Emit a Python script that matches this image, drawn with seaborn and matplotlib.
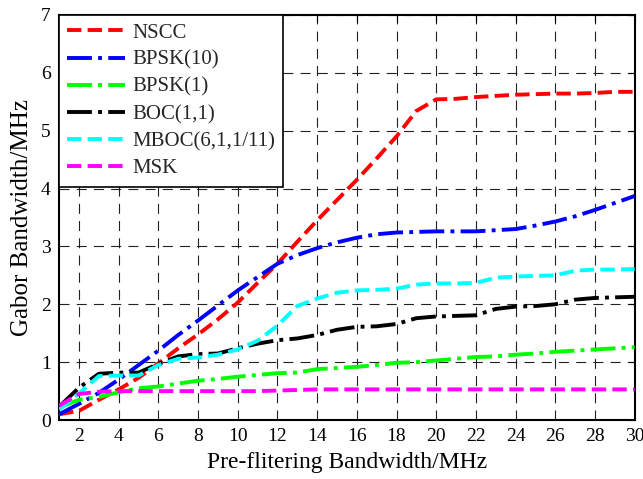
import numpy as np
import pandas as pd
import matplotlib
matplotlib.use("Agg")
import matplotlib.pyplot as plt
import seaborn as sns

bandwidth = list(range(1, 31))
nscc = [0.10, 0.16, 0.35, 0.53, 0.73, 0.98, 1.24, 1.48, 1.74, 2.03,
        2.37, 2.70, 3.08, 3.45, 3.80, 4.15, 4.52, 4.90, 5.34, 5.54,
        5.55, 5.58, 5.60, 5.62, 5.63, 5.64, 5.64, 5.65, 5.67, 5.67]
bpsk10 = [0.10, 0.28, 0.47, 0.70, 0.95, 1.20, 1.47, 1.72, 1.98, 2.24,
          2.47, 2.70, 2.85, 2.97, 3.07, 3.15, 3.21, 3.24, 3.25, 3.26,
          3.26, 3.26, 3.28, 3.30, 3.36, 3.43, 3.52, 3.63, 3.75, 3.87]
bpsk1 = [0.22, 0.35, 0.40, 0.48, 0.55, 0.58, 0.63, 0.68, 0.71, 0.75,
         0.78, 0.81, 0.82, 0.88, 0.90, 0.92, 0.95, 0.99, 1.00, 1.03,
         1.06, 1.09, 1.10, 1.13, 1.15, 1.18, 1.20, 1.22, 1.24, 1.26]
boc11 = [0.23, 0.56, 0.80, 0.82, 0.82, 0.97, 1.10, 1.14, 1.15, 1.24,
         1.32, 1.38, 1.41, 1.47, 1.56, 1.61, 1.62, 1.66, 1.76, 1.79,
         1.80, 1.81, 1.92, 1.96, 1.97, 2.00, 2.08, 2.11, 2.12, 2.13]
mboc = [0.18, 0.46, 0.76, 0.77, 0.77, 0.95, 1.06, 1.08, 1.13, 1.22,
        1.37, 1.63, 1.97, 2.10, 2.20, 2.24, 2.25, 2.27, 2.34, 2.36,
        2.36, 2.37, 2.46, 2.48, 2.49, 2.50, 2.58, 2.60, 2.60, 2.61]
msk = [0.25, 0.45, 0.49, 0.50, 0.50, 0.50, 0.50, 0.50, 0.50, 0.50,
       0.50, 0.51, 0.52, 0.53, 0.53, 0.53, 0.53, 0.53, 0.53, 0.53,
       0.53, 0.53, 0.53, 0.53, 0.53, 0.53, 0.53, 0.53, 0.53, 0.53]

labels = ["NSCC", "BPSK(10)", "BPSK(1)", "BOC(1,1)", "MBOC(6,1,1/11)", "MSK"]
series = [nscc, bpsk10, bpsk1, boc11, mboc, msk]
colors = ["#ff0000", "#0000ff", "#00ff00", "#000000", "#00ffff", "#ff00ff"]
styles = ["--", "-.", "-.", "-.", "--", "--"]

xticks = list(range(2, 31, 2))
yticks = list(range(0, 8))

sns.set_theme(style="white")
plt.rcParams["font.family"] = ["Liberation Serif", "DejaVu Serif"]

fig = plt.figure(figsize=(6.43, 4.79), dpi=100)
ax = fig.add_axes([0.092, 0.123, 0.895, 0.846])

for lab, vals, c, ls in zip(labels, series, colors, styles):
    df = pd.DataFrame({"x": bandwidth, "y": vals})
    sns.lineplot(data=df, x="x", y="y", ax=ax, color=c, linestyle=ls,
                 linewidth=2.8, label=lab, zorder=3)

ax.set_xlim(1, 30)
ax.set_ylim(0, 7)
ax.set_xticks(xticks)
ax.set_yticks(yticks)
ax.grid(True, color="#222222", linestyle=(0, (9, 6.5)), linewidth=0.8)
ax.tick_params(direction="in", top=True, right=True, labelsize=14,
               length=5, width=0.8, colors="black", pad=6)
for sp in ax.spines.values():
    sp.set_color("black")
    sp.set_linewidth(1.5)

ax.set_xlabel("Pre-flitering Bandwidth/MHz", fontsize=17, color="black", labelpad=5)
ax.set_ylabel("Gabor Bandwidth/MHz", fontsize=18, color="black", labelpad=6)

leg = ax.legend(loc="upper left", fontsize=15, frameon=True, fancybox=False,
                edgecolor="black", handlelength=2.75, borderaxespad=0.0,
                labelspacing=0.36, handletextpad=0.35, borderpad=0.4)
leg.get_frame().set_linewidth(1.2)
leg.get_frame().set_alpha(1)

fig.savefig("out.png", dpi=100)
